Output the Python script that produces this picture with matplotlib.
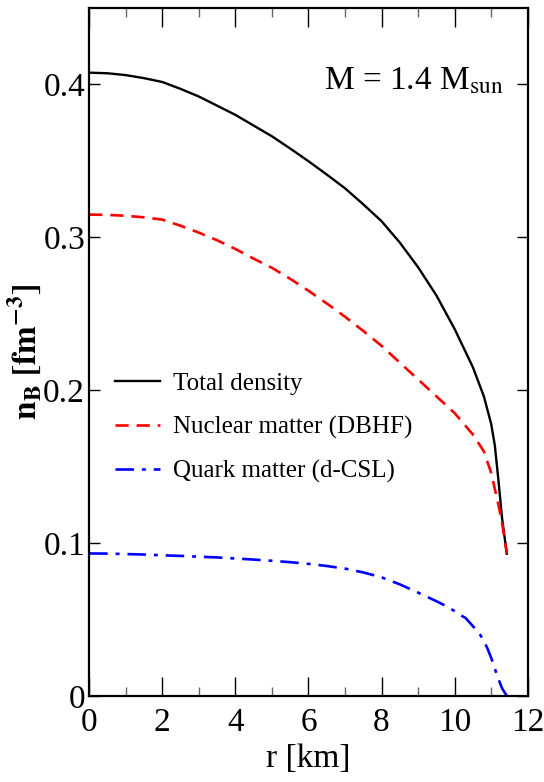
import numpy as np
import matplotlib.pyplot as plt

plt.rcParams['font.family'] = ['Liberation Serif', 'DejaVu Serif']
plt.rcParams['mathtext.fontset'] = 'stix'

# radial profile (r in km, n_B in fm^-3)
r_total = [0, 0.5, 1, 1.5, 2, 2.5, 3, 3.5, 4, 4.5, 5, 5.5, 6, 6.5, 7, 7.5, 8, 8.5, 9,
           9.5, 10, 10.5, 10.8, 11.0, 11.1, 11.2, 11.3, 11.43]
n_total = [0.4076, 0.4072, 0.406, 0.404, 0.4015, 0.397, 0.392, 0.386, 0.380, 0.373,
           0.366, 0.358, 0.3497, 0.341, 0.332, 0.3215, 0.3105, 0.2965, 0.2804,
           0.262, 0.240, 0.215, 0.196, 0.178, 0.164, 0.141, 0.116, 0.093]

r_nuc = [0, 0.5, 1, 1.5, 2, 2.5, 3, 3.5, 4, 4.5, 5, 5.5, 6, 6.5, 7, 7.5, 8, 8.5, 9,
         9.5, 10, 10.5, 10.8, 11.0, 11.2, 11.3, 11.43]
n_nuc = [0.3148, 0.3146, 0.314, 0.313, 0.3115, 0.3075, 0.303, 0.298, 0.2923, 0.286,
         0.280, 0.2728, 0.265, 0.2567, 0.248, 0.2387, 0.229, 0.218, 0.207,
         0.196, 0.185, 0.171, 0.160, 0.146, 0.125, 0.113, 0.093]

r_quark = [0, 0.5, 1, 1.5, 2, 2.5, 3, 3.5, 4, 4.5, 5, 5.5, 6, 6.5, 7, 7.5, 8, 8.5, 9,
           9.5, 9.75, 10, 10.15, 10.3, 10.45, 10.6, 10.7, 10.8, 10.9, 11.0, 11.1,
           11.2, 11.3, 11.43]
n_quark = [0.0932, 0.0931, 0.0928, 0.0925, 0.0920, 0.0916, 0.0911, 0.0906, 0.0899,
           0.0892, 0.0884, 0.0875, 0.0864, 0.0850, 0.0833, 0.0808, 0.0776, 0.0730,
           0.0676, 0.0620, 0.059, 0.0555, 0.053, 0.051, 0.047, 0.043, 0.040, 0.036,
           0.031, 0.025, 0.018, 0.011, 0.005, 0.0]

labels = ['Total density', 'Nuclear matter (DBHF)', 'Quark matter (d-CSL)']
x_ticks = [0, 2, 4, 6, 8, 10, 12]
x_minor = [1, 3, 5, 7, 9, 11]
y_ticks = [0, 0.1, 0.2, 0.3, 0.4]
y_ticklabels = ['0', '0.1', '0.2', '0.3', '0.4']

fig = plt.figure(figsize=(5.44, 7.82), dpi=100)
ax = fig.add_axes([0.164, 0.110, 0.806, 0.880])

ax.plot(r_total, n_total, color='black', lw=1.7, label=labels[0])
ax.plot(r_nuc, n_nuc, color='red', lw=1.9, dashes=(5, 3), label=labels[1])
ax.plot(r_quark, n_quark, color='blue', lw=1.9, dashes=(7, 3, 1.5, 3), label=labels[2])

ax.set_xlim(0, 12)
ax.set_ylim(0, 0.45)
ax.set_xticks(x_ticks)
ax.set_xticklabels([str(t) for t in x_ticks])
ax.set_xticks(x_minor, minor=True)
ax.set_yticks(y_ticks)
ax.set_yticklabels(y_ticklabels)

ax.tick_params(which='both', direction='in', top=True, right=True, labelsize=24)
ax.tick_params(axis='x', which='major', length=14, width=1, pad=8)
ax.tick_params(axis='x', which='minor', length=6.5, width=1, color='0.4')
ax.tick_params(axis='y', which='major', length=8, width=1, pad=3)
for s in ax.spines.values():
    s.set_linewidth(1.6)

ax.set_xlabel('r [km]', fontsize=24, labelpad=4)
ax.set_ylabel(r'$\mathbf{n_B\ [fm^{-3}]}$', fontsize=24, labelpad=0)

ax.text(0.535, 0.893, r'M = 1.4 M$_{\rm sun}$', transform=ax.transAxes,
        fontsize=24, ha='left', va='center')

ax.legend(loc='center left', bbox_to_anchor=(0.059, 0.39), frameon=False,
          fontsize=18, handlelength=1.8, handletextpad=0.5, labelspacing=0.85,
          borderaxespad=0, borderpad=0)

fig.savefig('out.png', dpi=100)
